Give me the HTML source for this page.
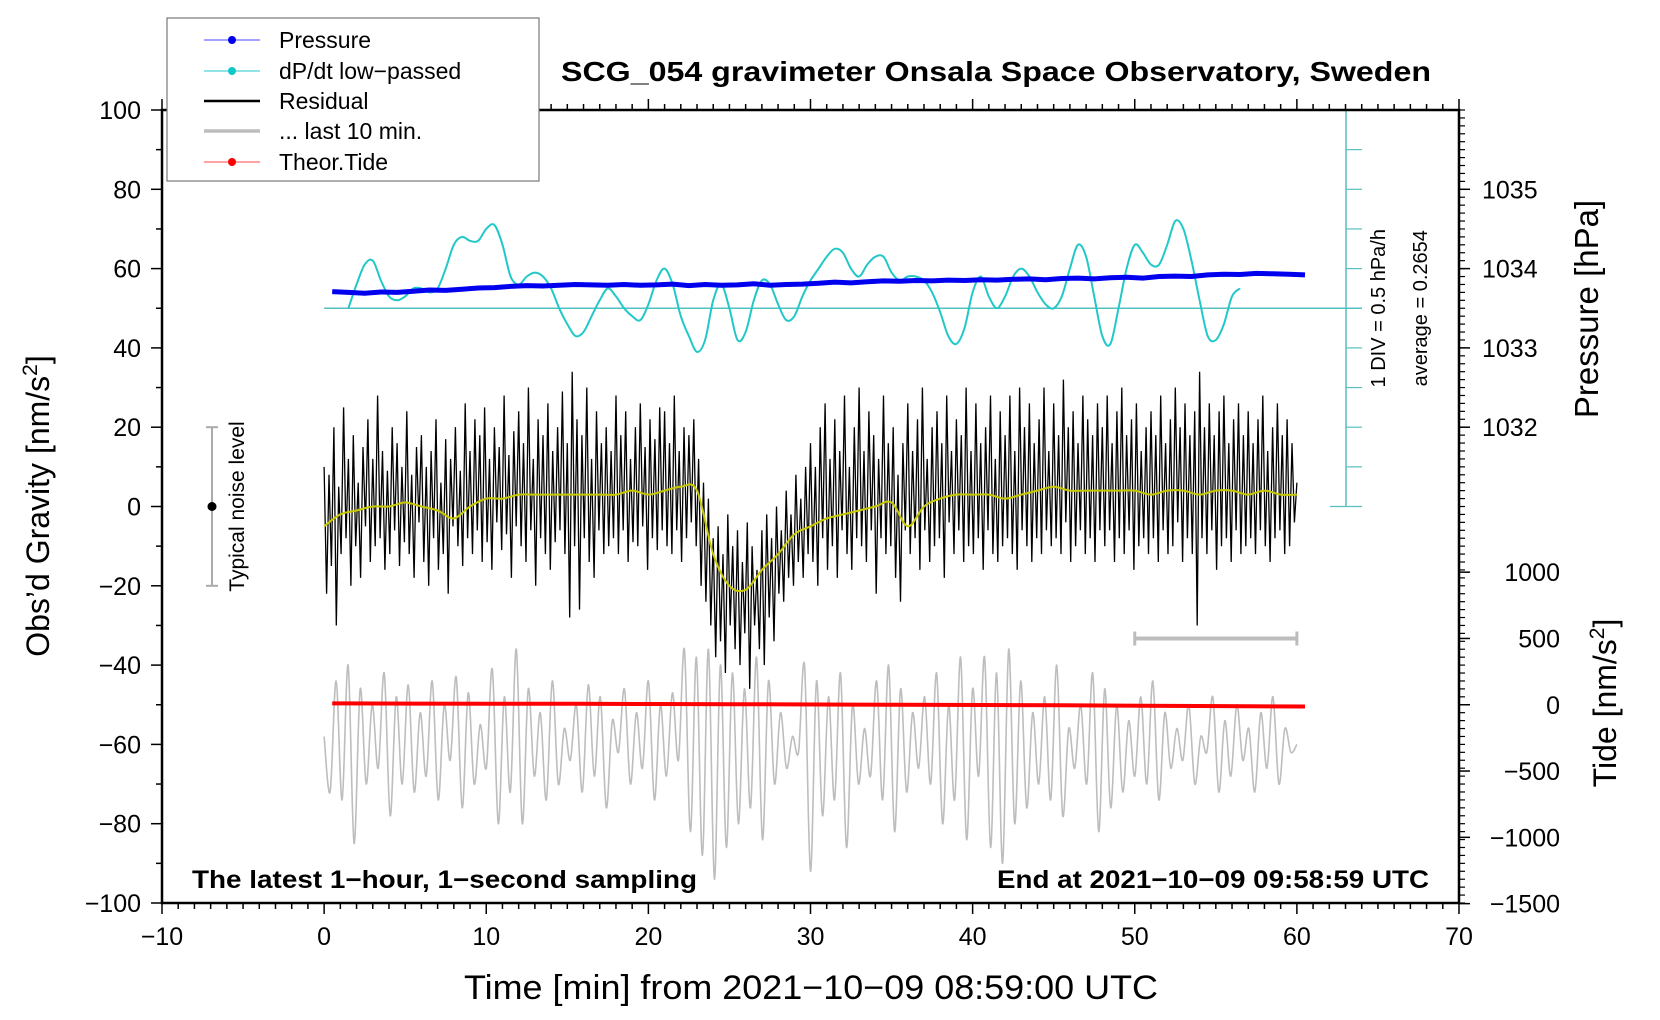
<!DOCTYPE html>
<html><head><meta charset="utf-8"><style>
html,body{margin:0;padding:0;background:#fff}
svg{display:block;font-family:"Liberation Sans",sans-serif}
</style></head><body>
<svg id="chart" width="1660" height="1020" viewBox="0 0 1660 1020" xmlns="http://www.w3.org/2000/svg">
<rect width="1660" height="1020" fill="#fff"/>
<g id="marks"></g>
<g id="axes"></g>
</svg>
<script>
// ---- data ----
const xTicks=[-10,0,10,20,30,40,50,60,70];
const yTicks=[-100,-80,-60,-40,-20,0,20,40,60,80,100];
const pressureTicks=[1032,1033,1034,1035];
const tideTicks=[1000,500,0,-500,-1000,-1500];
const residualStart=0, residualStep=0.15;
const residual=[10,-22,8,-15,20,-30,5,-12,25,-8,12,-20,18,-10,6,-18,15,-5,22,-14,
12,-10,28,-8,14,-16,9,-12,20,-6,16,-15,10,-9,24,-12,8,-18,15,-4,
18,-14,10,-20,14,-8,22,-16,6,-12,17,-22,12,-5,20,-10,9,-15,26,-8,
14,-12,22,-6,18,-14,25,-9,12,-16,20,-4,15,-11,28,-7,13,-18,19,-5,
24,-10,16,-14,30,-6,12,-20,22,-8,18,-12,26,-16,14,-9,20,-6,29,-12,
16,-28,34,-10,22,-26,18,-8,30,-14,12,-18,24,-6,16,-12,20,-10,14,-8,
28,-12,18,-6,24,-14,12,-9,20,-10,26,-5,15,-16,22,-8,17,-11,25,-6,
24,-10,16,-12,28,-6,14,-14,20,-8,18,-4,22,-10,12,-20,6,-24,2,-30,
-8,-38,-5,-34,-12,-42,-2,-30,-10,-36,-6,-40,-14,-32,-4,-46,-10,-30,-16,-36,
-6,-40,-2,-28,-8,-34,0,-22,-6,-24,4,-18,-2,-20,8,-14,2,-18,10,-12,
16,-14,10,-20,20,-8,26,-16,12,-10,22,-18,14,-6,28,-12,10,-16,20,-8,
30,-10,14,-14,24,-6,18,-22,12,-8,28,-12,16,-10,20,-18,8,-24,16,-6,
26,-12,14,-8,22,-16,30,-6,12,-14,20,-10,24,-8,16,-18,28,-4,14,-12,
22,-6,18,-14,30,-10,14,-12,26,-8,16,-16,20,-6,28,-12,12,-14,24,-10,
18,-8,28,-12,14,-16,30,-6,20,-10,26,-14,16,-8,22,-12,30,-6,14,-10,
26,-8,18,-12,32,-4,20,-14,24,-10,16,-6,28,-12,22,-8,18,-14,26,-6,
20,-10,28,-6,16,-14,24,-8,30,-12,18,-6,22,-16,26,-10,14,-8,20,-12,
24,-8,18,-14,28,-6,16,-12,22,-10,30,-4,20,-14,26,-8,18,-12,24,-30,
34,-8,20,-12,26,-6,18,-16,24,-10,28,-8,16,-14,22,-6,26,-12,18,-10,
24,-8,16,-12,22,-6,28,-10,14,-14,20,-8,26,-6,18,-12,22,-10,16,-4,6];
const smoothStart=0, smoothStep=1;
const smooth=[-5,-2,-1,0,0,1,0,-1,-3,0,2,2,3,3,3,3,3,3,3,4,3,4,5,4,-12,-20,-21,-16,-12,-7,-5,-3,-2,-1,0,1,-5,0,2,3,3,3,2,3,4,5,4,4,4,4,4,3,4,4,3,4,4,3,4,3,3];
const dpdtStart=1.5, dpdtStep=0.5;
const dpdt=[50,56,61,62,57,53,52,53,55,55,54,55,60,66,68,67,67,70,71,66,58,56,58,59,58,55,50,46,43,44,48,52,55,53,50,48,47,51,57,60,56,48,43,39,42,52,56,50,42,44,52,57,56,51,47,48,53,57,60,63,65,64,60,58,61,63,63,59,57,58,58,57,54,49,43,41,45,54,58,53,50,53,58,60,58,54,51,50,53,60,66,63,53,43,41,50,60,66,64,61,61,66,72,70,62,52,43,42,46,53,55];
const pressureStart=0.5, pressureStep=1;
const pressure=[1033.71,1033.70,1033.69,1033.705,1033.70,1033.715,1033.73,1033.725,1033.74,1033.755,1033.76,1033.775,1033.785,1033.78,1033.79,1033.80,1033.795,1033.79,1033.80,1033.79,1033.795,1033.805,1033.785,1033.80,1033.79,1033.795,1033.81,1033.79,1033.80,1033.805,1033.815,1033.83,1033.82,1033.835,1033.845,1033.84,1033.85,1033.845,1033.855,1033.85,1033.86,1033.855,1033.865,1033.87,1033.86,1033.875,1033.88,1033.87,1033.885,1033.89,1033.88,1033.90,1033.905,1033.90,1033.92,1033.93,1033.925,1033.94,1033.935,1033.93,1033.92];
const tideStart=0.5, tideStep=5;
const tide=[10,9,8,7,6,4,2,0,-2,-4,-7,-10,-13];
const lastStart=0, lastEnd=60;
const last10=[-58,-72,-44,-74,-40,-85,-46,-70,-50,-66,-42,-78,-48,-70,-45,-72,-52,-68,-44,-74,
-50,-64,-43,-76,-47,-70,-55,-66,-41,-80,-48,-72,-36,-80,-46,-68,-52,-74,-44,-70,
-56,-64,-50,-72,-45,-68,-48,-76,-54,-62,-46,-70,-52,-66,-44,-74,-50,-68,-47,-64,
-36,-82,-38,-88,-36,-94,-40,-86,-42,-80,-46,-76,-38,-84,-44,-70,-52,-66,-58,-62,
-40,-92,-44,-78,-48,-74,-42,-86,-50,-70,-56,-68,-44,-74,-40,-82,-46,-72,-52,-66,
-48,-70,-42,-80,-50,-74,-38,-84,-46,-68,-38,-86,-42,-90,-36,-80,-44,-76,-52,-70,
-48,-74,-40,-78,-56,-66,-50,-70,-42,-82,-46,-76,-50,-72,-54,-68,-48,-70,-44,-74,
-52,-66,-56,-64,-50,-70,-58,-62,-48,-72,-54,-68,-50,-64,-56,-72,-52,-66,-48,-70,-56,-62,-60];

// ---- axes functions ----
const L=162,R=1459,T=110,B=903;
const X=t=>L+(t+10)/80*(R-L);
const Y=g=>T+(100-g)/200*(B-T);
const P=p=>Y(80+(p-1035)*20);
const TD=v=>Y(-50+v*16.72/500);
const NS='http://www.w3.org/2000/svg';
const marks=document.getElementById('marks'), axes=document.getElementById('axes');
function mk(tag,attrs,parent){const e=document.createElementNS(NS,tag);for(const k in attrs)e.setAttribute(k,attrs[k]);parent.appendChild(e);return e;}
function pts(arr,start,step,fx,fy){return arr.map((v,i)=>fx(start+i*step).toFixed(1)+','+fy(v).toFixed(1)).join(' ');}
function smoothPath(arr,start,step,fx,fy){
  const p=arr.map((v,i)=>[fx(start+i*step),fy(v)]);
  let d='M'+p[0][0].toFixed(1)+','+p[0][1].toFixed(1);
  for(let i=0;i<p.length-1;i++){
    const p0=p[i-1]||p[i],p1=p[i],p2=p[i+1],p3=p[i+2]||p2;
    const c1=[p1[0]+(p2[0]-p0[0])/6,p1[1]+(p2[1]-p0[1])/6];
    const c2=[p2[0]-(p3[0]-p1[0])/6,p2[1]-(p3[1]-p1[1])/6];
    d+=` C${c1[0].toFixed(1)},${c1[1].toFixed(1)} ${c2[0].toFixed(1)},${c2[1].toFixed(1)} ${p2[0].toFixed(1)},${p2[1].toFixed(1)}`;
  }
  return d;
}

// cyan scale
let cs=mk('g',{},marks);


mk('line',{x1:X(0),x2:1362,y1:Y(50),y2:Y(50),stroke:'#55c0c0','stroke-width':1.5},cs);
mk('line',{x1:1346,x2:1346,y1:Y(100),y2:Y(0),stroke:'#55c0c0','stroke-width':1.5},cs);
for(let g=0;g<=100;g+=10){const big=(g%50===0);mk('line',{x1:big?1330:1346,x2:1362,y1:Y(g),y2:Y(g),stroke:'#55c0c0','stroke-width':1.2},cs);}
let t1=mk('text',{x:0,y:0,'font-size':20,'text-anchor':'middle',transform:`translate(1385,${Y(50)}) rotate(-90)`},cs);t1.textContent='1 DIV = 0.5 hPa/h';


let t2=mk('text',{x:0,y:0,'font-size':20,'text-anchor':'middle',transform:`translate(1427,${Y(50)}) rotate(-90)`},cs);t2.textContent='average = 0.2654';



// gray last 10 min
let gl=mk('path',{d:smoothPath(last10,lastStart,(lastEnd-lastStart)/(last10.length-1),X,Y),fill:'none',stroke:'#bdbdbd','stroke-width':1.6},marks);


// residual
let rl=mk('polyline',{points:pts(residual,residualStart,residualStep,X,Y),fill:'none',stroke:'#000','stroke-width':1.3},marks);


let sl=mk('path',{d:smoothPath(smooth,smoothStart,smoothStep,X,Y),fill:'none',stroke:'#c8c800','stroke-width':2},marks);


// dpdt
let dl=mk('path',{d:smoothPath(dpdt,dpdtStart,dpdtStep,X,Y),fill:'none',stroke:'#22c8c8','stroke-width':2},marks);


// pressure
let pl=mk('polyline',{points:pts(pressure,pressureStart,pressureStep,X,P),fill:'none',stroke:'#0000ee','stroke-width':5}, marks);


// tide
let tl=mk('polyline',{points:pts(tide,tideStart,tideStep,X,TD),fill:'none',stroke:'#ff0000','stroke-width':4},marks);


// gray bar 50-60
let gb=mk('g',{},marks);


mk('line',{x1:X(50),x2:X(60),y1:Y(-33.3),y2:Y(-33.3),stroke:'#bdbdbd','stroke-width':4},gb);
mk('line',{x1:X(50),x2:X(50),y1:Y(-33.3)-7,y2:Y(-33.3)+7,stroke:'#bdbdbd','stroke-width':3},gb);
mk('line',{x1:X(60),x2:X(60),y1:Y(-33.3)-7,y2:Y(-33.3)+7,stroke:'#bdbdbd','stroke-width':3},gb);
// noise bar
let nb=mk('g',{},marks);


mk('line',{x1:212,x2:212,y1:Y(20),y2:Y(-20),stroke:'#aaa','stroke-width':2},nb);
mk('line',{x1:206,x2:218,y1:Y(20),y2:Y(20),stroke:'#aaa','stroke-width':2},nb);
mk('line',{x1:206,x2:218,y1:Y(-20),y2:Y(-20),stroke:'#aaa','stroke-width':2},nb);
mk('circle',{cx:212,cy:Y(0),r:4.5,fill:'#000'},nb);
let nt=mk('text',{x:0,y:0,'font-size':21,'text-anchor':'middle',transform:`translate(244,${Y(0)}) rotate(-90)`},nb);nt.textContent='Typical noise level';

// axes frame
mk('rect',{x:L,y:T,width:R-L,height:B-T,fill:'none',stroke:'#000','stroke-width':2.5},axes);
for(let t=-10;t<=70;t++){const maj=t%10===0;mk('line',{x1:X(t),x2:X(t),y1:B,y2:B+(maj?11:6),stroke:'#000','stroke-width':1.5},axes);mk('line',{x1:X(t),x2:X(t),y1:T,y2:T-(maj?11:6),stroke:'#000','stroke-width':1.5},axes);}
xTicks.forEach(t=>{let e=mk('text',{x:X(t),y:945,'font-size':25,'text-anchor':'middle'},axes);e.textContent=String(t).replace('-','\u2212');

});
for(let g=-100;g<=100;g+=10){const maj=g%20===0;mk('line',{x1:L,x2:L-(maj?11:6),y1:Y(g),y2:Y(g),stroke:'#000','stroke-width':1.5},axes);}
yTicks.forEach(g=>{let e=mk('text',{x:141,y:Y(g)+9,'font-size':25,'text-anchor':'end'},axes);e.textContent=String(g).replace('-','\u2212');

});
for(let g=-100;g<=100;g+=2){mk('line',{x1:R,x2:R+6,y1:Y(g),y2:Y(g),stroke:'#000','stroke-width':1.2},axes);}
pressureTicks.forEach(p=>{mk('line',{x1:R,x2:R+11,y1:P(p),y2:P(p),stroke:'#000','stroke-width':1.5},axes);let e=mk('text',{x:1482,y:P(p)+9,'font-size':25},axes);e.textContent=p;

});
tideTicks.forEach(v=>{mk('line',{x1:R,x2:R+11,y1:TD(v),y2:TD(v),stroke:'#000','stroke-width':1.5},axes);let e=mk('text',{x:1560,y:TD(v)+9,'font-size':25,'text-anchor':'end'},axes);e.textContent=String(v).replace('-','\u2212');

});
</script>
<svg style="position:absolute;left:0;top:0" width="1660" height="1020" viewBox="0 0 1660 1020" xmlns="http://www.w3.org/2000/svg">
<text x="561" y="81" font-size="28" font-weight="bold" textLength="870" lengthAdjust="spacingAndGlyphs">SCG_054 gravimeter Onsala Space Observatory, Sweden</text>
<text x="464" y="999" font-size="34" textLength="694" lengthAdjust="spacingAndGlyphs">Time [min] from 2021−10−09 08:59:00 UTC</text>
<text transform="translate(49,506) rotate(-90)" text-anchor="middle" font-size="32">Obs’d Gravity [nm/s<tspan font-size="21" dy="-12">2</tspan><tspan dy="12">]</tspan></text>
<text transform="translate(1598,309) rotate(-90)" text-anchor="middle" font-size="33">Pressure [hPa]</text>
<text transform="translate(1616,703) rotate(-90)" text-anchor="middle" font-size="32">Tide [nm/s<tspan font-size="21" dy="-12">2</tspan><tspan dy="12">]</tspan></text>
<text x="192" y="888" font-size="25" font-weight="bold" textLength="505" lengthAdjust="spacingAndGlyphs">The latest 1−hour, 1−second sampling</text>
<text x="997" y="888" font-size="25" font-weight="bold" textLength="432" lengthAdjust="spacingAndGlyphs">End at 2021−10−09 09:58:59 UTC</text>
<g>
<rect x="167" y="18" width="372" height="163" fill="#fff" stroke="#777" stroke-width="1.2"/>
<g><line x1="204" x2="260" y1="40" y2="40" stroke="#4444ff" stroke-width="1"/><circle cx="232" cy="40" r="4" fill="#0000ee"/><text x="279" y="48" font-size="23">Pressure</text></g>
<g><line x1="204" x2="260" y1="71" y2="71" stroke="#22c8c8" stroke-width="1"/><circle cx="232" cy="71" r="4" fill="#11c8c8"/><text x="279" y="79" font-size="23">dP/dt low−passed</text></g>
<g><line x1="204" x2="260" y1="101" y2="101" stroke="#000" stroke-width="2.5"/><text x="279" y="109" font-size="23">Residual</text></g>
<g><line x1="204" x2="260" y1="131" y2="131" stroke="#bdbdbd" stroke-width="3.5"/><text x="279" y="139" font-size="23">... last 10 min.</text></g>
<g><line x1="204" x2="260" y1="162" y2="162" stroke="#ff4444" stroke-width="1"/><circle cx="232" cy="162" r="4" fill="#ff0000"/><text x="279" y="170" font-size="23">Theor.Tide</text></g>
</g>
</svg>
</body></html>
